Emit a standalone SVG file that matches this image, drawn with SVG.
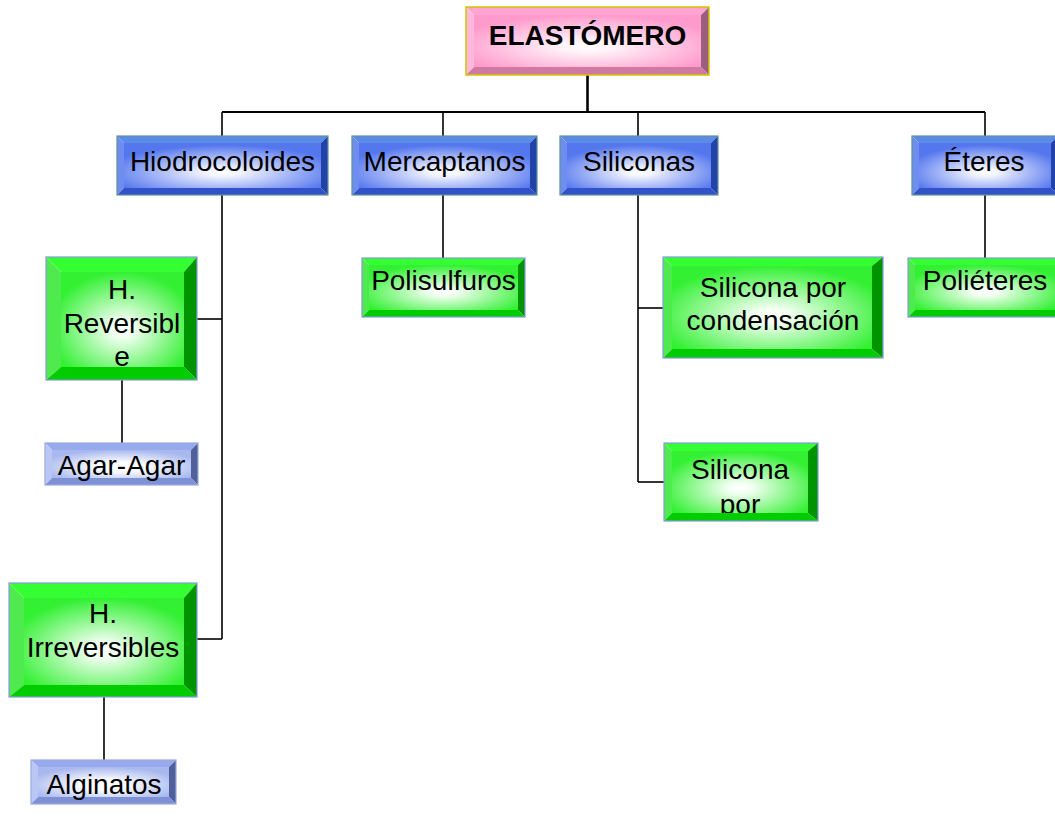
<svg xmlns="http://www.w3.org/2000/svg" width="1055" height="825" viewBox="0 0 1055 825">
<defs>
<radialGradient id="gPink" cx="0.5" cy="0.6" r="0.6"><stop offset="0" stop-color="#FFFFFF"/><stop offset="0.2" stop-color="#FFF2F8"/><stop offset="1" stop-color="#FF9ACC"/></radialGradient>
<radialGradient id="gBlue" cx="0.5" cy="0.65" r="0.6"><stop offset="0" stop-color="#FFFFFF"/><stop offset="0.15" stop-color="#F2F4FF"/><stop offset="1" stop-color="#5577EE"/></radialGradient>
<radialGradient id="gGreen" cx="0.5" cy="0.6" r="0.6"><stop offset="0" stop-color="#FFFFFF"/><stop offset="0.15" stop-color="#F2FFF2"/><stop offset="1" stop-color="#33F033"/></radialGradient>
<radialGradient id="gLight" cx="0.5" cy="0.6" r="0.6"><stop offset="0" stop-color="#FFFFFF"/><stop offset="0.3" stop-color="#FAFBFF"/><stop offset="1" stop-color="#A8B8EE"/></radialGradient>
<style>
text{font-family:"Liberation Sans",Arial,sans-serif;font-size:28px;fill:#000;text-anchor:middle}
.bold{font-weight:bold}
.pink .face{fill:url(#gPink)}
.pink .t{fill:#FFA3D2}.pink .l{fill:#FFB8DC}.pink .r{fill:#9C5E7E}.pink .b{fill:#D07AA3}
.pink .o{fill:none;stroke:#D4C400;stroke-width:1.5}
.blue .face{fill:url(#gBlue)}
.blue .t{fill:#5B8AE8}.blue .l{fill:#6F8DF0}.blue .r{fill:#2142A8}.blue .b{fill:#3152C8}
.blue .o{fill:none;stroke:#5F9494;stroke-width:1.2}
.green .face{fill:url(#gGreen)}
.green .t{fill:#33FF33}.green .l{fill:#4EEA4E}.green .r{fill:#009400}.green .b{fill:#00CC00}
.green .o{fill:none;stroke:#8899DD;stroke-width:1.2}
.light .face{fill:url(#gLight)}
.light .t{fill:#98AAEE}.light .l{fill:#BAC7F4}.light .r{fill:#50609C}.light .b{fill:#7E90D6}
.light .o{fill:none;stroke:#99AADD;stroke-width:1.2}
#connectors line{stroke:#000;stroke-width:1.6}
</style>
</defs>
<rect width="1055" height="825" fill="#FFFFFF"/>

<g id="connectors">
<line x1="587.5" y1="75" x2="587.5" y2="112" style="stroke-width:2.6"/>
<line x1="222" y1="112" x2="985" y2="112" style="stroke-width:2"/>
<line x1="222" y1="112" x2="222" y2="136"/>
<line x1="443" y1="112" x2="443" y2="136"/>
<line x1="638" y1="112" x2="638" y2="136"/>
<line x1="985" y1="112" x2="985" y2="136"/>
<line x1="222" y1="195" x2="222" y2="639"/>
<line x1="197" y1="319" x2="222" y2="319"/>
<line x1="197" y1="639" x2="222" y2="639"/>
<line x1="122" y1="380" x2="122" y2="443"/>
<line x1="104" y1="697" x2="104" y2="760"/>
<line x1="443" y1="195" x2="443" y2="258"/>
<line x1="638" y1="195" x2="638" y2="482"/>
<line x1="638" y1="308" x2="663" y2="308"/>
<line x1="638" y1="482" x2="664" y2="482"/>
<line x1="985" y1="195" x2="985" y2="258"/>
</g>

<g id="elastomero" class="pink">
<rect class="face" x="474" y="15" width="227" height="52"/>
<polygon class="t" points="466,7 709,7 701,15 474,15"/>
<polygon class="l" points="466,7 474,15 474,67 466,75"/>
<polygon class="r" points="709,7 709,75 701,67 701,15"/>
<polygon class="b" points="466,75 474,67 701,67 709,75"/>
<rect class="o" x="466" y="7" width="243" height="68"/>
<text class="bold" x="587.5" y="45">ELASTÓMERO</text>
</g>

<g id="hidrocoloides" class="blue">
<rect class="face" x="124" y="143" width="197" height="45"/>
<polygon class="t" points="117,136 328,136 321,143 124,143"/>
<polygon class="l" points="117,136 124,143 124,188 117,195"/>
<polygon class="r" points="328,136 328,195 321,188 321,143"/>
<polygon class="b" points="117,195 124,188 321,188 328,195"/>
<rect class="o" x="117" y="136" width="211" height="59"/>
<text x="222.5" y="171">Hiodrocoloides</text>
</g>

<g id="mercaptanos" class="blue">
<rect class="face" x="359" y="143" width="171" height="45"/>
<polygon class="t" points="352,136 537,136 530,143 359,143"/>
<polygon class="l" points="352,136 359,143 359,188 352,195"/>
<polygon class="r" points="537,136 537,195 530,188 530,143"/>
<polygon class="b" points="352,195 359,188 530,188 537,195"/>
<rect class="o" x="352" y="136" width="185" height="59"/>
<text x="444.5" y="171">Mercaptanos</text>
</g>

<g id="siliconas" class="blue">
<rect class="face" x="567" y="143" width="144" height="45"/>
<polygon class="t" points="560,136 718,136 711,143 567,143"/>
<polygon class="l" points="560,136 567,143 567,188 560,195"/>
<polygon class="r" points="718,136 718,195 711,188 711,143"/>
<polygon class="b" points="560,195 567,188 711,188 718,195"/>
<rect class="o" x="560" y="136" width="158" height="59"/>
<text x="639" y="171">Siliconas</text>
</g>

<g id="eteres" class="blue">
<rect class="face" x="919" y="143" width="132" height="45"/>
<polygon class="t" points="912,136 1058,136 1051,143 919,143"/>
<polygon class="l" points="912,136 919,143 919,188 912,195"/>
<polygon class="r" points="1058,136 1058,195 1051,188 1051,143"/>
<polygon class="b" points="912,195 919,188 1051,188 1058,195"/>
<rect class="o" x="912" y="136" width="146" height="59"/>
<text x="984" y="171">Éteres</text>
</g>

<g id="h-reversible" class="green">
<rect class="face" x="61" y="272" width="123" height="95"/>
<text x="122" y="299">H.</text>
<text x="122" y="333">Reversibl</text>
<text x="122" y="366">e</text>
<polygon class="t" points="46,257 197,257 184,272 61,272"/>
<polygon class="l" points="46,257 61,272 61,367 46,380"/>
<polygon class="r" points="197,257 197,380 184,367 184,272"/>
<polygon class="b" points="46,380 61,367 184,367 197,380"/>
<rect class="o" x="46" y="257" width="151" height="123"/>
</g>

<g id="agar-agar" class="light">
<rect class="face" x="52" y="450" width="139" height="28"/>
<polygon class="t" points="45,443 198,443 191,450 52,450"/>
<polygon class="l" points="45,443 52,450 52,478 45,485"/>
<polygon class="r" points="198,443 198,485 191,478 191,450"/>
<polygon class="b" points="45,485 52,478 191,478 198,485"/>
<rect class="o" x="45" y="443" width="153" height="42"/>
<text x="121.5" y="475">Agar-Agar</text>
</g>

<g id="h-irreversibles" class="green">
<rect class="face" x="24" y="598" width="160" height="87"/>
<text x="103" y="623">H.</text>
<text x="103" y="657">Irreversibles</text>
<polygon class="t" points="9,583 197,583 184,598 24,598"/>
<polygon class="l" points="9,583 24,598 24,685 9,697"/>
<polygon class="r" points="197,583 197,697 184,685 184,598"/>
<polygon class="b" points="9,697 24,685 184,685 197,697"/>
<rect class="o" x="9" y="583" width="188" height="114"/>
</g>

<g id="alginatos" class="light">
<rect class="face" x="38" y="767" width="131" height="30"/>
<polygon class="t" points="31,760 176,760 169,767 38,767"/>
<polygon class="l" points="31,760 38,767 38,797 31,804"/>
<polygon class="r" points="176,760 176,804 169,797 169,767"/>
<polygon class="b" points="31,804 38,797 169,797 176,804"/>
<rect class="o" x="31" y="760" width="145" height="44"/>
<text x="104" y="794">Alginatos</text>
</g>

<g id="polisulfuros" class="green">
<rect class="face" x="369" y="265" width="149" height="45"/>
<polygon class="t" points="362,258 525,258 518,265 369,265"/>
<polygon class="l" points="362,258 369,265 369,310 362,317"/>
<polygon class="r" points="525,258 525,317 518,310 518,265"/>
<polygon class="b" points="362,317 369,310 518,310 525,317"/>
<rect class="o" x="362" y="258" width="163" height="59"/>
<text x="443.5" y="290">Polisulfuros</text>
</g>

<g id="silicona-condensacion" class="green">
<rect class="face" x="672" y="266" width="200" height="83"/>
<text x="773" y="297">Silicona por</text>
<text x="773" y="330">condensación</text>
<polygon class="t" points="663,257 883,257 872,266 672,266"/>
<polygon class="l" points="663,257 672,266 672,349 663,358"/>
<polygon class="r" points="883,257 883,358 872,349 872,266"/>
<polygon class="b" points="663,358 672,349 872,349 883,358"/>
<rect class="o" x="663" y="257" width="220" height="101"/>
</g>

<g id="silicona-por" class="green">
<rect class="face" x="672" y="451" width="136" height="62"/>
<text x="740" y="479">Silicona</text>
<text x="740" y="514">por</text>
<polygon class="t" points="664,443 818,443 808,451 672,451"/>
<polygon class="l" points="664,443 672,451 672,513 664,521"/>
<polygon class="r" points="818,443 818,521 808,513 808,451"/>
<polygon class="b" points="664,521 672,513 808,513 818,521"/>
<rect class="o" x="664" y="443" width="154" height="78"/>
</g>

<g id="polieteres" class="green">
<rect class="face" x="915" y="265" width="140" height="45"/>
<polygon class="t" points="908,258 1062,258 1055,265 915,265"/>
<polygon class="l" points="908,258 915,265 915,310 908,317"/>
<polygon class="r" points="1062,258 1062,317 1055,310 1055,265"/>
<polygon class="b" points="908,317 915,310 1055,310 1062,317"/>
<rect class="o" x="908" y="258" width="154" height="59"/>
<text x="985" y="290">Poliéteres</text>
</g>
</svg>
